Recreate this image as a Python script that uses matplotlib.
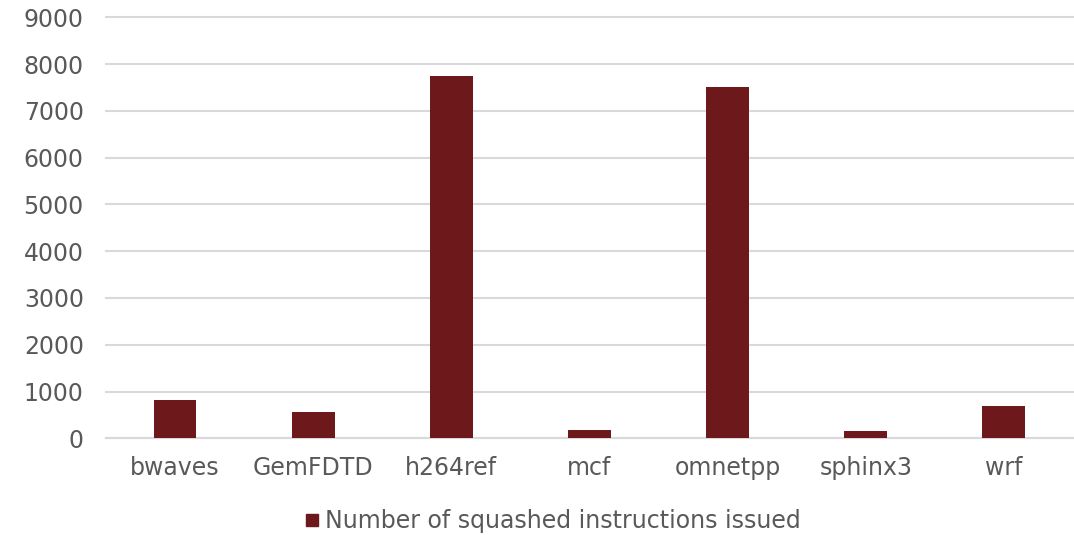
import numpy as np
from matplotlib import pyplot as plt
from matplotlib.lines import Line2D

plt.rcParams['font.family'] = ['DejaVu Sans']

benchmarks = ['bwaves', 'GemFDTD', 'h264ref', 'mcf', 'omnetpp', 'sphinx3', 'wrf']
squashed_issued = [812, 570, 7745, 171, 7503, 156, 690]
y_ticks = list(range(0, 9001, 1000))

bar_color = '#6D191B'
text_color = '#595959'
grid_color = '#D9D9D9'


def plot_squashed():
    fig = plt.figure(figsize=(10.74, 5.35), dpi=100)
    ax = fig.add_axes([0.0987, 0.1807, 0.9003, 0.787])

    x = np.arange(len(benchmarks))
    ax.bar(x, squashed_issued, width=0.31, color=bar_color, zorder=3)

    ax.set_xlim(-0.5, len(benchmarks) - 0.5)
    ax.set_ylim(0, 9000)
    ax.set_yticks(y_ticks)
    ax.set_xticks(x, benchmarks)
    ax.tick_params(axis='y', length=0, pad=16, labelsize=17, labelcolor=text_color)
    ax.tick_params(axis='x', length=0, pad=13, labelsize=17, labelcolor=text_color)

    ax.yaxis.grid(True, color=grid_color, linewidth=1.5, zorder=0)
    for gl in ax.get_ygridlines():
        gl.set_clip_on(False)
    for side in ['top', 'left', 'right']:
        ax.spines[side].set_visible(False)
    ax.spines['bottom'].set_color(grid_color)
    ax.spines['bottom'].set_linewidth(1.5)

    handle = Line2D([], [], marker='s', linestyle='none', markersize=9,
                    markerfacecolor=bar_color, markeredgecolor=bar_color)
    fig.legend([handle], ['Number of squashed instructions issued'], loc='center',
               bbox_to_anchor=(0.5125, 0.026), frameon=False, fontsize=17,
               labelcolor=text_color, handletextpad=0.05, handlelength=1.0)

    fig.savefig('out.png', dpi=100)


if __name__ == '__main__':
    plot_squashed()
